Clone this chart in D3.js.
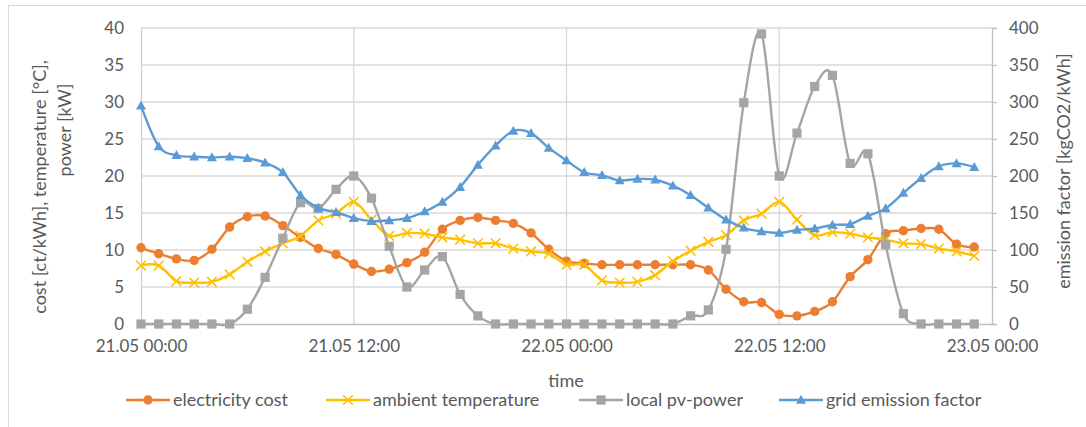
<!DOCTYPE html>
<html><head><meta charset="utf-8">
<script src="https://cdn.jsdelivr.net/npm/d3@7"></script>
<style>
body{margin:0;background:#fff}
svg{display:block}
text{font-family:Lato,'Open Sans',sans-serif;fill:#595959}
</style>
</head><body>
<svg id="chart" width="1086" height="427"></svg>
<script>
// ---- data (hourly, 21.05 00:00 .. 22.05 23:00) ----
const hours = d3.range(48);
const electricityCost = [10.3, 9.5, 8.8, 8.6, 10.1, 13.1, 14.5, 14.6, 13.3, 11.7, 10.2, 9.4,
  8.1, 7.1, 7.4, 8.3, 9.7, 12.8, 14.0, 14.4, 14.0, 13.6, 12.3, 10.1,
  8.5, 8.2, 8.0, 8.0, 8.0, 8.0, 8.0, 8.0, 7.3, 4.7, 3.0, 2.9,
  1.3, 1.1, 1.7, 3.0, 6.4, 8.7, 12.2, 12.6, 12.9, 12.8, 10.8, 10.4];
const ambientTemperature = [7.9, 7.9, 5.8, 5.6, 5.7, 6.7, 8.4, 9.8, 10.9, 11.9, 14.0, 14.9,
  16.5, 14.1, 11.9, 12.3, 12.2, 11.7, 11.4, 10.9, 10.9, 10.2, 9.8, 9.5,
  8.0, 8.0, 5.9, 5.6, 5.7, 6.6, 8.5, 9.9, 11.1, 12.0, 14.0, 14.9,
  16.5, 14.1, 12.0, 12.4, 12.2, 11.7, 11.4, 10.9, 10.8, 10.2, 9.8, 9.2];
const localPvPower = [0, 0, 0, 0, 0, 0, 2.0, 6.3, 11.6, 16.4, 15.6, 18.2,
  20.0, 17.0, 10.5, 5.0, 7.3, 9.1, 4.0, 1.1, 0, 0, 0, 0,
  0, 0, 0, 0, 0, 0, 0, 1.1, 1.9, 10.1, 29.9, 39.2,
  20.0, 25.8, 32.1, 33.6, 21.7, 23.0, 10.7, 1.4, 0, 0, 0, 0];
const gridEmissionFactor = [295, 240, 228, 226, 225, 226, 224, 218, 205, 174, 157, 151,
  143, 139, 140, 143, 152, 165, 185, 215, 241, 261, 258, 238,
  221, 205, 201, 194, 196, 195, 187, 174, 157, 141, 130, 125,
  123, 127, 129, 134, 135, 146, 156, 177, 197, 213, 217, 212];

const xTickValues = [0, 12, 24, 36, 48];
const xTickLabels = ["21.05 00:00", "21.05 12:00", "22.05 00:00", "22.05 12:00", "23.05 00:00"];
const leftTicks = [0, 5, 10, 15, 20, 25, 30, 35, 40];
const rightTicks = [0, 50, 100, 150, 200, 250, 300, 350, 400];
const seriesNames = ["electricity cost", "ambient temperature", "local pv-power", "grid emission factor"];

// ---- layout ----
const svg = d3.select("#chart");
const L = 141, R = 992, T = 28, B = 324;
const FS = 17, FT = 18;
const x = d3.scaleLinear().domain([0, 48]).range([L, R]);
const yL = d3.scaleLinear().domain([0, 40]).range([B, T]);
const yR = d3.scaleLinear().domain([0, 400]).range([B, T]);

// chart border (top & left visible)
svg.append("rect").attr("x", 8.5).attr("y", 5.5).attr("width", 1100).attr("height", 440)
  .attr("fill", "none").attr("stroke", "#d9d9d9").attr("stroke-width", 1);

// horizontal gridlines
svg.append("g").selectAll("line").data(leftTicks.slice(1)).join("line")
  .attr("x1", L).attr("x2", R).attr("y1", d => yL(d)).attr("y2", d => yL(d))
  .attr("stroke", "#d9d9d9").attr("stroke-width", 1.3);
// vertical gridlines
svg.append("g").selectAll("line").data(xTickValues.slice(1, -1)).join("line")
  .attr("x1", d => x(d)).attr("x2", d => x(d)).attr("y1", T).attr("y2", B)
  .attr("stroke", "#d9d9d9").attr("stroke-width", 1.3);

// left axis
const gl = svg.append("g").attr("transform", `translate(${L},0)`)
  .call(d3.axisLeft(yL).tickValues(leftTicks).tickSize(0).tickPadding(17));
gl.select(".domain").attr("stroke", "#d0d0d0").attr("stroke-width", 1.3);
gl.selectAll("text").attr("font-size", FS).style("font-family", "Lato").attr("fill", "#595959");

// right axis
const gr = svg.append("g").attr("transform", `translate(${R},0)`)
  .call(d3.axisRight(yR).tickValues(rightTicks).tickSize(5).tickPadding(12));
gr.select(".domain").attr("stroke", "#bfbfbf").attr("stroke-width", 1.3);
gr.selectAll(".tick line").attr("stroke", "#bfbfbf").attr("stroke-width", 1.3);
gr.selectAll("text").attr("font-size", FS).style("font-family", "Lato").attr("fill", "#595959");

// bottom axis
const gb = svg.append("g").attr("transform", `translate(0,${B})`)
  .call(d3.axisBottom(x).tickValues(xTickValues).tickSize(0).tickPadding(16)
    .tickFormat((d, i) => xTickLabels[i]));
gb.select(".domain").attr("stroke", "#bfbfbf").attr("stroke-width", 1.3);
gb.selectAll("text").attr("font-size", FS).style("font-family", "Lato").attr("fill", "#595959");

// axis titles
svg.append("text").attr("x", 566).attr("y", 387).attr("text-anchor", "middle")
  .attr("font-size", FT).text("time");
svg.append("text").attr("transform", "translate(46,187) rotate(-90)").attr("text-anchor", "middle")
  .attr("font-size", FT).text("cost [ct/kWh], temperature [°C],");
svg.append("text").attr("transform", "translate(71,130) rotate(-90)").attr("text-anchor", "middle")
  .attr("font-size", FT).text("power [kW]");
svg.append("text").attr("transform", "translate(1070,171) rotate(-90)").attr("text-anchor", "middle")
  .attr("font-size", FT).text("emission factor [kgCO2/kWh]");

// ---- series ----
const colors = ["#ED7D31", "#FFC000", "#A5A5A5", "#5B9BD5"];
const seriesData = [electricityCost, ambientTemperature, localPvPower, gridEmissionFactor];
const seriesScale = [yL, yL, yL, yR];
const markerTypes = ["circle", "x", "square", "triangle"];

function drawMarker(g, type, color, cx, cy) {
  if (type === "circle") {
    g.append("circle").attr("cx", cx).attr("cy", cy).attr("r", 4.7).attr("fill", color);
  } else if (type === "square") {
    g.append("rect").attr("x", cx - 4.6).attr("y", cy - 4.6).attr("width", 9.2).attr("height", 9.2).attr("fill", color);
  } else if (type === "triangle") {
    g.append("path").attr("d", `M${cx},${cy - 5.2}L${cx + 5},${cy + 3.8}L${cx - 5},${cy + 3.8}Z`).attr("fill", color);
  } else if (type === "x") {
    const s = 4.8;
    g.append("path").attr("d", `M${cx - s},${cy - s}L${cx + s},${cy + s}M${cx - s},${cy + s}L${cx + s},${cy - s}`)
      .attr("stroke", color).attr("stroke-width", 1.6).attr("fill", "none");
  }
}

seriesData.forEach((vals, si) => {
  const ys = seriesScale[si];
  const g = svg.append("g");
  const line = d3.line().x((d, i) => x(hours[i])).y(d => ys(d)).curve(d3.curveCardinal.tension(0));
  g.append("path").attr("d", line(vals)).attr("fill", "none")
    .attr("stroke", colors[si]).attr("stroke-width", 2.4).attr("stroke-linejoin", "round");
  vals.forEach((v, i) => drawMarker(g, markerTypes[si], colors[si], x(hours[i]), ys(v)));
});

// ---- legend ----
const legendX = [126, 326, 579, 779];
const legendY = 400;
seriesNames.forEach((name, i) => {
  const g = svg.append("g");
  g.append("line").attr("x1", legendX[i]).attr("x2", legendX[i] + 44)
    .attr("y1", legendY).attr("y2", legendY).attr("stroke", colors[i]).attr("stroke-width", 2.4);
  drawMarker(g, markerTypes[i], colors[i], legendX[i] + 22, legendY);
  g.append("text").attr("x", legendX[i] + 47).attr("y", legendY).attr("dy", "0.35em")
    .attr("font-size", FT).text(name);
});
</script>
</body></html>
